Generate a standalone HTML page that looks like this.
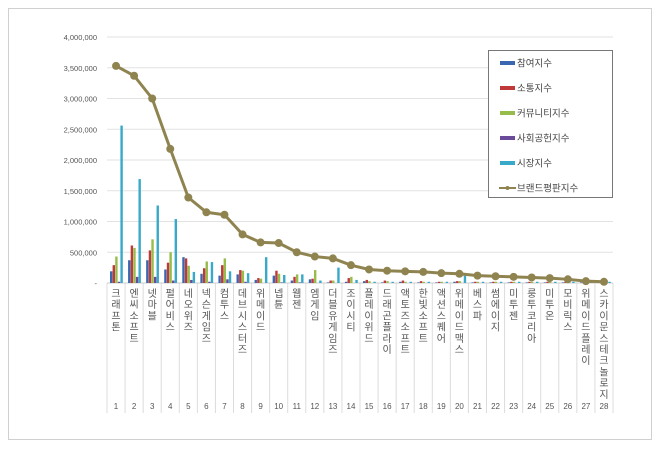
<!DOCTYPE html>
<html><head><meta charset="utf-8"><style>
body{margin:0;background:#fff;width:660px;height:449px;overflow:hidden}
svg text{font-family:"Liberation Sans","Noto Sans CJK KR",sans-serif}
</style></head><body>
<svg id="s" width="660" height="449" xmlns="http://www.w3.org/2000/svg"></svg>
<script>
const names=["크래프톤","엔씨소프트","넷마블","펄어비스","네오위즈","넥슨게임즈","컴투스","데브시스터즈","위메이드","넵튠","웹젠","엠게임","더블유게임즈","조이시티","플레이위드","드래곤플라이","액토즈소프트","한빛소프트","액션스퀘어","위메이드맥스","베스파","썸에이지","미투젠","룽투코리아","미투온","모비릭스","위메이드플레이","스카이문스테크놀로지"];
const line=[3.53,3.37,3.0,2.18,1.39,1.15,1.11,0.79,0.66,0.65,0.5,0.43,0.40,0.29,0.22,0.2,0.19,0.18,0.16,0.15,0.12,0.11,0.1,0.09,0.08,0.06,0.03,0.02];
const bars=[[.19,.29,.43,.02,2.56],[.37,.61,.57,.1,1.69],[.37,.53,.71,.1,1.26],[.22,.33,.5,.04,1.04],[.42,.4,.28,.05,.18],[.15,.24,.35,.02,.34],[.12,.29,.4,.06,.19],[.14,.21,.2,.02,.16],[.05,.08,.07,0,.42],[.12,.2,.15,.01,.13],[.04,.1,.14,.01,.14],[.06,.07,.21,0,.04],[.01,.04,.04,0,.25],[.02,.08,.1,0,.05],[.03,.05,.03,0,.02],[.01,.04,.03,0,.02],[.02,.04,.02,0,.02],[.01,.03,.02,0,.02],[.01,.02,.02,0,.02],[.02,.03,.03,0,.12],[.01,.02,.02,0,.02],[.01,.02,.02,0,.02],[.01,.02,.02,0,.02],[.01,.02,.02,0,.02],[.01,.02,.02,0,.02],[.01,.02,.02,0,.02],[.01,.02,.02,0,.02],[.01,.02,.02,0,.02]];
const cols=["#3a68b0","#c0393a","#96bc4c","#6b4a9a","#38a9c9"];
const x0=107,x1=613,y0=283,y4=37,n=28,w=(x1-x0)/n;
const Y=v=>y0-(y0-y4)*v/4;
let h='<rect x="8.5" y="8.5" width="643" height="431" fill="none" stroke="#d0d0d0"/>';
for(let i=0;i<=8;i++){const y=Y(i*0.5);if(i>0)h+=`<line x1="${x0}" y1="${y}" x2="${x1}" y2="${y}" stroke="#e2e2e2"/>`;
h+=`<text x="97" y="${y+3}" font-size="7.5" text-anchor="end" fill="#555">${i==0?'-':(i*500000).toLocaleString('en-US')}</text>`;}
for(let i=0;i<=n;i++){const x=x0+i*w;h+=`<line x1="${x}" y1="${y0}" x2="${x}" y2="413" stroke="#dcdcdc"/>`;}
h+=`<line x1="${x0}" y1="${y0}" x2="${x1}" y2="${y0}" stroke="#ccc"/>`;
for(let i=0;i<n;i++){const bx=x0+i*w+3;bars[i].forEach((v,k)=>{const y=Y(v);h+=`<rect x="${bx+k*2.6}" y="${y}" width="2.4" height="${y0-y}" fill="${cols[k]}"/>`});
const cx=x0+i*w+w/2;
[...names[i]].forEach((c,j)=>h+=`<text x="${cx}" y="${297+j*11.2}" font-size="10" text-anchor="middle" fill="#555">${c}</text>`);
h+=`<text x="${cx}" y="409" font-size="8" text-anchor="middle" fill="#555">${i+1}</text>`;}
h+=`<polyline points="${line.map((v,i)=>(x0+i*w+w/2)+','+Y(v)).join(' ')}" fill="none" stroke="#8f8450" stroke-width="3"/>`;
line.forEach((v,i)=>h+=`<circle cx="${x0+i*w+w/2}" cy="${Y(v)}" r="4" fill="#8f8450"/>`);
h+='<rect x="488.5" y="50.5" width="124" height="147" fill="#fff" stroke="#777"/>';
const lg=["참여지수","소통지수","커뮤니티지수","사회공헌지수","시장지수","브랜드평판지수"];
lg.forEach((t,k)=>{const y=63+k*25;
if(k<5)h+=`<rect x="500" y="${y-2}" width="15" height="4" fill="${cols[k]}"/>`;
else h+=`<line x1="499" y1="${y}" x2="516" y2="${y}" stroke="#8f8450" stroke-width="2"/><circle cx="507.5" cy="${y}" r="2" fill="#8f8450"/>`;
h+=`<text x="517" y="${y+3.5}" font-size="9.5" fill="#444">${t}</text>`;});
document.getElementById('s').innerHTML=h;
</script>
</body></html>
